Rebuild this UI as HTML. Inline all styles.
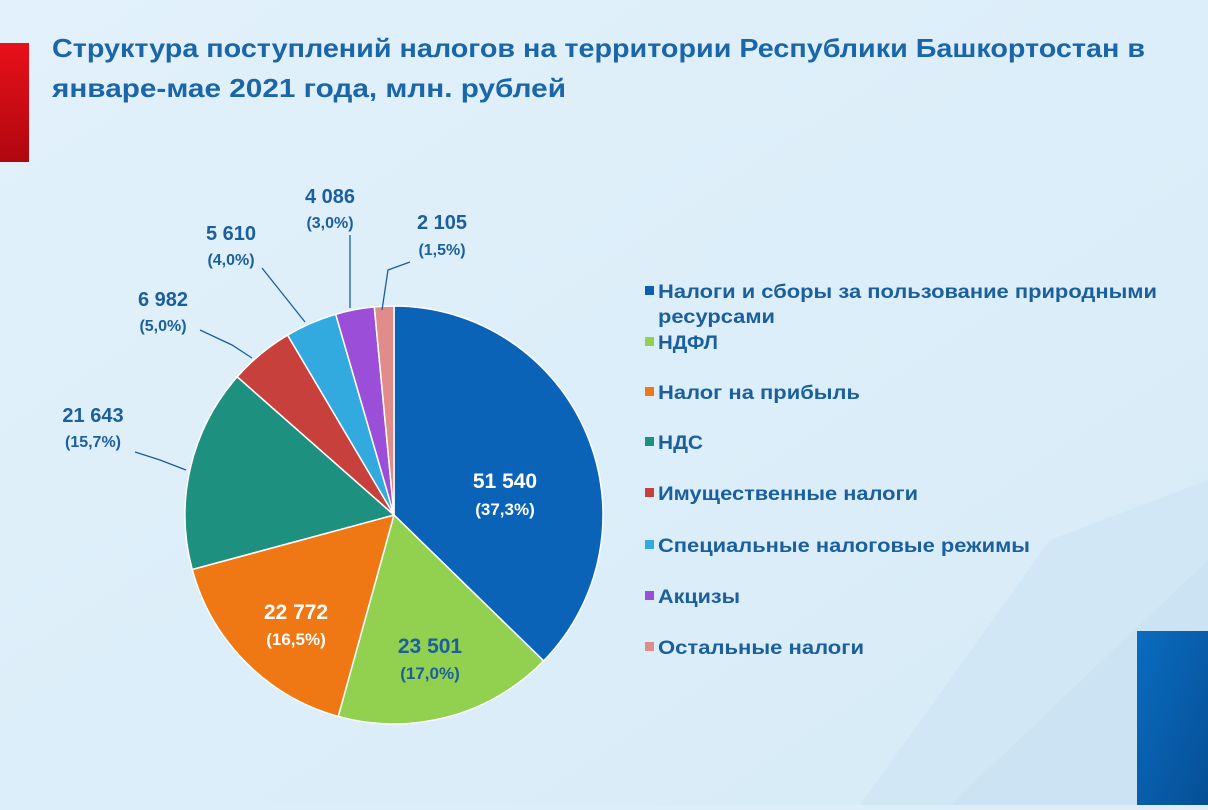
<!DOCTYPE html>
<html><head><meta charset="utf-8">
<style>
html,body{margin:0;padding:0}
body{width:1208px;height:805px;overflow:hidden;background:#ddeef9;font-family:"Liberation Sans",sans-serif}
</style></head><body>
<svg width="1208" height="805" xmlns="http://www.w3.org/2000/svg" font-family="Liberation Sans, sans-serif">
<defs>
<linearGradient id="bg" x1="0" y1="0" x2="1" y2="1">
<stop offset="0" stop-color="#e2f1fb"/><stop offset="1" stop-color="#d6ebf7"/></linearGradient>
<linearGradient id="red" x1="0" y1="0" x2="0" y2="1"><stop offset="0" stop-color="#e8101a"/><stop offset="1" stop-color="#b0070f"/></linearGradient>
<linearGradient id="bl" x1="0" y1="0" x2="1" y2="1"><stop offset="0" stop-color="#0a6cc0"/><stop offset="1" stop-color="#064f96"/></linearGradient>
</defs>
<rect width="1208" height="805" fill="url(#bg)"/>
<path d="M860 805 L1050 540 L1208 480 L1208 805 Z" fill="#cfe5f3" opacity="0.7"/>
<path d="M950 805 L1208 560 L1208 805 Z" fill="#c8e1f1" opacity="0.6"/>
<rect x="0" y="43" width="29" height="119" fill="url(#red)"/>
<rect x="1137" y="631" width="71" height="174" fill="url(#bl)"/>
<g fill="#1a66a8" font-weight="bold" font-size="26">
<text x="52" y="57" textLength="1093" lengthAdjust="spacingAndGlyphs">Структура поступлений налогов на территории Республики Башкортостан в</text>
<text x="52" y="97" textLength="514" lengthAdjust="spacingAndGlyphs">январе-мае 2021 года, млн. рублей</text>
</g>
<g id="pie" stroke="#ffffff" stroke-width="1.5"></g>
<g stroke="#1b5f9c" stroke-width="1.3" fill="none">
<polyline points="135,452 160,460 186,470"/>
<polyline points="200,330 232,345 252,358"/>
<polyline points="262,268 305,322"/>
<polyline points="350,235 350,308"/>
<polyline points="410,262 388,270 382,310"/>
</g>
<g font-weight="bold" text-anchor="middle">
<g fill="#1b5f9c">
<text x="93" y="422" font-size="20">21 643</text><text x="93" y="447" font-size="16">(15,7%)</text>
<text x="163" y="306" font-size="20">6 982</text><text x="163" y="331" font-size="16">(5,0%)</text>
<text x="231" y="240" font-size="20">5 610</text><text x="231" y="265" font-size="16">(4,0%)</text>
<text x="330" y="203" font-size="20">4 086</text><text x="330" y="228" font-size="16">(3,0%)</text>
<text x="442" y="229" font-size="20">2 105</text><text x="442" y="255" font-size="16">(1,5%)</text>
<text x="430" y="653" font-size="21">23 501</text><text x="430" y="679" font-size="17">(17,0%)</text>
</g>
<g fill="#ffffff">
<text x="505" y="488" font-size="21">51 540</text><text x="505" y="515" font-size="17">(37,3%)</text>
<text x="296" y="619" font-size="21">22 772</text><text x="296" y="645" font-size="17">(16,5%)</text>
</g>
</g>
<g font-weight="bold" font-size="19" fill="#1b5f9c" lengthAdjust="spacingAndGlyphs">
<rect x="645" y="286" width="9" height="9" fill="#0a5fb0"/><text x="658" y="298" textLength="499" lengthAdjust="spacingAndGlyphs">Налоги и сборы за пользование природными</text><text x="658" y="323" textLength="117" lengthAdjust="spacingAndGlyphs">ресурсами</text>
<rect x="645" y="337" width="9" height="9" fill="#92d050"/><text x="658" y="349" textLength="60" lengthAdjust="spacingAndGlyphs">НДФЛ</text>
<rect x="645" y="387" width="9" height="9" fill="#f07814"/><text x="658" y="399" textLength="202" lengthAdjust="spacingAndGlyphs">Налог на прибыль</text>
<rect x="645" y="437" width="9" height="9" fill="#1e9080"/><text x="658" y="449" textLength="45" lengthAdjust="spacingAndGlyphs">НДС</text>
<rect x="645" y="488" width="9" height="9" fill="#c8403c"/><text x="658" y="500" textLength="260" lengthAdjust="spacingAndGlyphs">Имущественные налоги</text>
<rect x="645" y="540" width="9" height="9" fill="#33aadf"/><text x="658" y="552" textLength="372" lengthAdjust="spacingAndGlyphs">Специальные налоговые режимы</text>
<rect x="645" y="591" width="9" height="9" fill="#9b4fd8"/><text x="658" y="603" textLength="82" lengthAdjust="spacingAndGlyphs">Акцизы</text>
<rect x="645" y="642" width="9" height="9" fill="#e08c88"/><text x="658" y="654" textLength="206" lengthAdjust="spacingAndGlyphs">Остальные налоги</text>
</g>
</svg>
<script>
(function(){
var cx=394,cy=515,r=209;
var f=[.373,.17,.165,.157,.05,.04,.03,.015];
var c=["#0b63b8","#92d050","#f07814","#1e9080","#c8403c","#33aadf","#9b4fd8","#e08c88"];
var g=document.getElementById("pie"),a=0,ns="http://www.w3.org/2000/svg";
for(var i=0;i<f.length;i++){
var a1=a+f[i]*2*Math.PI;
var x0=cx+r*Math.sin(a),y0=cy-r*Math.cos(a),x1=cx+r*Math.sin(a1),y1=cy-r*Math.cos(a1);
var p=document.createElementNS(ns,"path");
p.setAttribute("d","M"+cx+" "+cy+" L"+x0+" "+y0+" A"+r+" "+r+" 0 "+(f[i]>.5?1:0)+" 1 "+x1+" "+y1+" Z");
p.setAttribute("fill",c[i]);g.appendChild(p);a=a1;}
})();
</script>
</body></html>
